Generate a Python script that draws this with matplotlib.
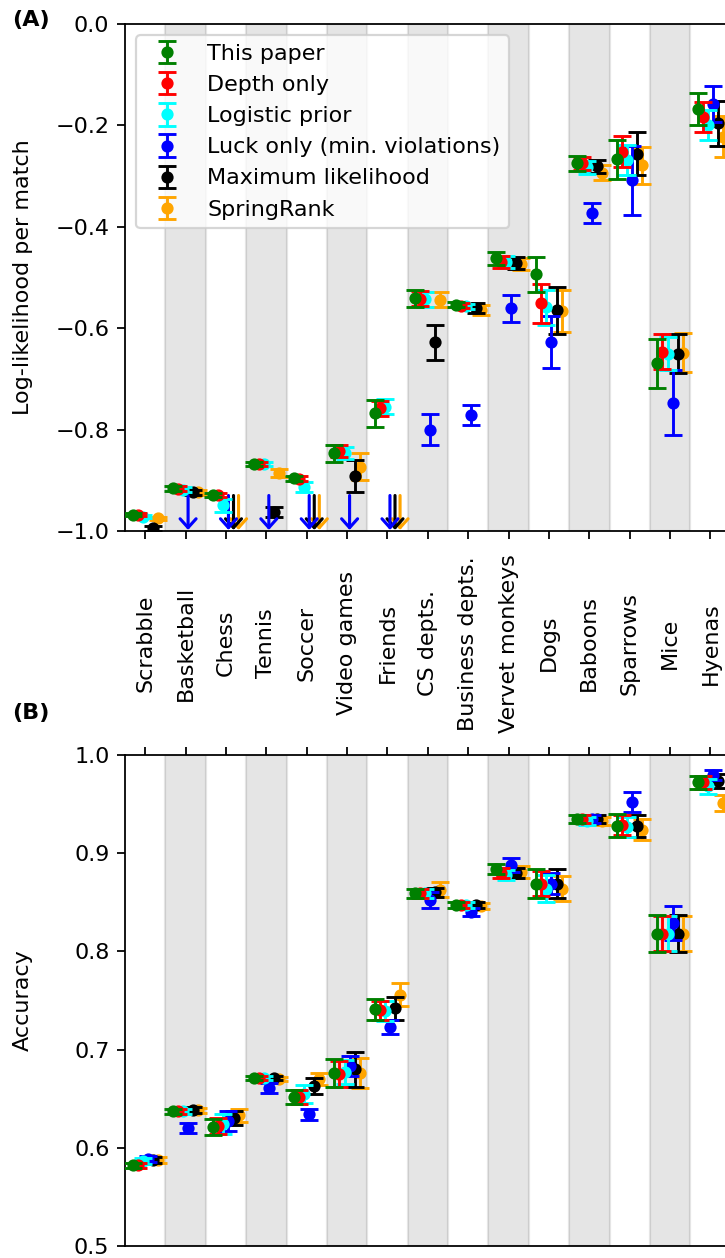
import numpy as np
import matplotlib
matplotlib.use("Agg")
import matplotlib.pyplot as plt

nan = np.nan

categories = ["Scrabble", "Basketball", "Chess", "Tennis", "Soccer", "Video games",
              "Friends", "CS depts.", "Business depts.", "Vervet monkeys", "Dogs",
              "Baboons", "Sparrows", "Mice", "Hyenas"]

labels = ["This paper", "Depth only", "Logistic prior",
          "Luck only (min. violations)", "Maximum likelihood", "SpringRank"]
colors = ["green", "red", "cyan", "blue", "black", "orange"]

# (A) log-likelihood per match, nan = off the bottom of the axis
this_paper_ll = [-0.968, -0.916, -0.929, -0.867, -0.896, -0.847, -0.768, -0.541,
                 -0.554, -0.462, -0.494, -0.275, -0.267, -0.669, -0.168]
this_paper_ll_err = [0.003, 0.005, 0.004, 0.004, 0.005, 0.016, 0.027, 0.017,
                     0.005, 0.013, 0.034, 0.015, 0.038, 0.048, 0.032]
depth_ll = [-0.968, -0.917, -0.929, -0.867, -0.897, -0.843, -0.758, -0.542,
            -0.556, -0.469, -0.551, -0.275, -0.252, -0.646, -0.184]
depth_ll_err = [0.003, 0.005, 0.004, 0.004, 0.005, 0.012, 0.015, 0.015,
                0.005, 0.012, 0.039, 0.013, 0.031, 0.034, 0.030]
logistic_ll = [-0.972, -0.919, -0.949, -0.867, -0.913, -0.846, -0.755, -0.543,
               -0.557, -0.470, -0.559, -0.283, -0.268, -0.650, -0.199]
logistic_ll_err = [0.003, 0.005, 0.013, 0.004, 0.010, 0.012, 0.015, 0.015,
                   0.005, 0.012, 0.035, 0.013, 0.030, 0.033, 0.030]
luck_ll = [nan, nan, nan, nan, nan, nan, nan, -0.800,
           -0.771, -0.561, -0.627, -0.373, -0.308, -0.747, -0.158]
luck_ll_err = [0, 0, 0, 0, 0, 0, 0, 0.031,
               0.020, 0.027, 0.051, 0.020, 0.068, 0.064, 0.035]
ml_ll = [-0.995, -0.924, nan, -0.963, nan, -0.891, nan, -0.628,
         -0.561, -0.472, -0.565, -0.281, -0.256, -0.650, -0.196]
ml_ll_err = [0.005, 0.005, 0, 0.010, 0, 0.032, 0, 0.034,
             0.010, 0.012, 0.047, 0.013, 0.042, 0.038, 0.044]
spring_ll = [-0.975, -0.924, nan, -0.886, nan, -0.873, nan, -0.544,
             -0.564, -0.473, -0.566, -0.293, -0.279, -0.648, -0.222]
spring_ll_err = [0.003, 0.005, 0, 0.008, 0, 0.027, 0, 0.015,
                 0.010, 0.012, 0.041, 0.015, 0.036, 0.039, 0.040]

# which off-scale points get a down arrow
arrows_ll = {
    "Luck only (min. violations)": ["Basketball", "Chess", "Tennis", "Soccer", "Video games", "Friends"],
    "Maximum likelihood": ["Chess", "Soccer", "Friends"],
    "SpringRank": ["Chess", "Soccer", "Friends"],
}
arrow_top, arrow_tip = -0.93, -0.998

# (B) accuracy
this_paper_acc = [0.582, 0.637, 0.621, 0.671, 0.652, 0.676, 0.741, 0.859,
                  0.847, 0.884, 0.869, 0.9345, 0.928, 0.818, 0.972]
this_paper_acc_err = [0.003, 0.003, 0.008, 0.002, 0.007, 0.014, 0.011, 0.005,
                      0.003, 0.005, 0.015, 0.004, 0.012, 0.019, 0.007]
depth_acc = [0.582, 0.637, 0.622, 0.671, 0.652, 0.675, 0.740, 0.859,
             0.847, 0.880, 0.869, 0.9345, 0.929, 0.818, 0.972]
depth_acc_err = [0.003, 0.003, 0.008, 0.002, 0.007, 0.013, 0.010, 0.005,
                 0.003, 0.005, 0.013, 0.004, 0.010, 0.018, 0.007]
logistic_acc = [0.587, 0.637, 0.624, 0.671, 0.655, 0.677, 0.739, 0.859,
                0.847, 0.878, 0.864, 0.933, 0.927, 0.818, 0.968]
logistic_acc_err = [0.003, 0.003, 0.010, 0.002, 0.009, 0.012, 0.010, 0.005,
                    0.003, 0.005, 0.014, 0.004, 0.010, 0.018, 0.008]
luck_acc = [0.589, 0.620, 0.627, 0.661, 0.634, 0.683, 0.723, 0.852,
            0.840, 0.888, 0.869, 0.9345, 0.952, 0.829, 0.980]
luck_acc_err = [0.003, 0.005, 0.010, 0.005, 0.006, 0.010, 0.007, 0.008,
                0.004, 0.007, 0.011, 0.004, 0.0105, 0.017, 0.005]
ml_acc = [0.588, 0.6385, 0.630, 0.671, 0.663, 0.680, 0.742, 0.860,
          0.847, 0.880, 0.869, 0.9345, 0.928, 0.818, 0.9735]
ml_acc_err = [0.003, 0.003, 0.007, 0.002, 0.008, 0.018, 0.012, 0.005,
              0.003, 0.005, 0.015, 0.004, 0.011, 0.019, 0.007]
spring_acc = [0.588, 0.638, 0.633, 0.670, 0.670, 0.676, 0.756, 0.863,
              0.846, 0.881, 0.864, 0.933, 0.924, 0.818, 0.951]
spring_acc_err = [0.003, 0.003, 0.007, 0.002, 0.006, 0.015, 0.012, 0.008,
                  0.003, 0.006, 0.013, 0.004, 0.011, 0.018, 0.008]

ll_series = [(this_paper_ll, this_paper_ll_err), (depth_ll, depth_ll_err),
             (logistic_ll, logistic_ll_err), (luck_ll, luck_ll_err),
             (ml_ll, ml_ll_err), (spring_ll, spring_ll_err)]
acc_series = [(this_paper_acc, this_paper_acc_err), (depth_acc, depth_acc_err),
              (logistic_acc, logistic_acc_err), (luck_acc, luck_acc_err),
              (ml_acc, ml_acc_err), (spring_acc, spring_acc_err)]


def shade(ax, n):
    for i in range(1, n, 2):
        ax.axvspan(i - 0.5, i + 0.5, color="k", alpha=0.1, zorder=0)


def main():
    W, H, dpi = 725, 1258, 160
    fig = plt.figure(figsize=(W / dpi, H / dpi), dpi=dpi)

    # axes run past the right edge of the figure on purpose (cropped figure)
    ax1 = fig.add_axes([125 / W, 1 - 531 / H, 646 / W, 507 / H])
    ax2 = fig.add_axes([125 / W, 1 - 1246 / H, 646 / W, 491 / H])

    x = np.arange(len(categories))
    offsets = (np.arange(len(labels)) - 2.5) * 0.125
    xlim = (-0.5, len(categories) + 0.5)

    style = dict(fmt="o", ms=4.5, capsize=4, elinewidth=1.3, capthick=1.3)

    handles = []
    for i, ((vals, errs), lab, col) in enumerate(zip(ll_series, labels, colors)):
        h = ax1.errorbar(x + offsets[i], vals, yerr=errs, color=col, label=lab,
                         zorder=10 - i, **style)
        handles.append(h)
        for cat in arrows_ll.get(lab, []):
            xj = x[categories.index(cat)] + offsets[i]
            ax1.annotate("", xy=(xj, arrow_tip), xytext=(xj, arrow_top),
                         arrowprops=dict(arrowstyle="->,head_width=0.36,head_length=0.4",
                                         color=col, lw=1.4, shrinkA=0, shrinkB=0),
                         zorder=10 - i)

    for i, ((vals, errs), col) in enumerate(zip(acc_series, colors)):
        ax2.errorbar(x + offsets[i], vals, yerr=errs, color=col, zorder=10 - i, **style)

    shade(ax1, len(categories))
    shade(ax2, len(categories))

    ax1.set_xlim(*xlim)
    ax1.set_ylim(-1.0, 0.0)
    ax1.set_xticks(x)
    ax1.set_xticklabels(categories, rotation=90, va="center")
    ax1.tick_params(axis="x", pad=47)
    ax1.set_ylabel("Log-likelihood per match")
    ax1.yaxis.set_label_coords(-0.142, 0.5)
    ax1.legend(handles=handles, loc="upper left")

    ax2.set_xlim(*xlim)
    ax2.set_ylim(0.5, 1.0)
    ax2.set_xticks(x)
    ax2.tick_params(axis="x", top=True, bottom=False, labeltop=False, labelbottom=False)
    ax2.set_ylabel("Accuracy")
    ax2.yaxis.set_label_coords(-0.142, 0.5)

    fig.text(12 / W, 1 - 20 / H, "(A)", fontweight="bold", va="center")
    fig.text(12 / W, 1 - 713 / H, "(B)", fontweight="bold", va="center")

    fig.savefig("out.png", dpi=dpi)


if __name__ == "__main__":
    main()
